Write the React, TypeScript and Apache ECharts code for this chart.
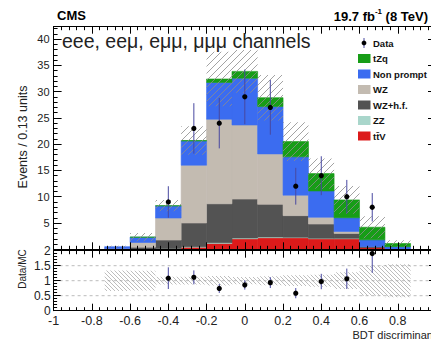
import React, { useEffect, useRef } from 'react';
import * as echarts from 'echarts';

// Histogram binning of the BDT discriminant (15 bins of 2/15 units)
const binEdges = [-1, -0.867, -0.733, -0.6, -0.467, -0.333, -0.2, -0.067, 0.067, 0.2, 0.333, 0.467, 0.6, 0.733, 0.867, 1];

// Expected yields per bin, stacked from the bottom up
const ttV = [0, 0, 0, 0, 0.1, 0.4, 1.1, 2.0, 2.2, 2.2, 2.0, 2.0, 0.3, 0, 0];
const zz = [0, 0, 0, 0, 0.05, 0.1, 0.15, 0.15, 0.15, 0.1, 0.1, 0.1, 0, 0, 0];
const wzHf = [0, 0, 0.05, 0.4, 1.6, 4.5, 7.4, 7.4, 6.2, 4.1, 2.7, 0.9, 0.2, 0, 0];
const wz = [0, 0, 0.1, 0.9, 4.2, 11.0, 16.1, 14.1, 9.6, 3.9, 1.3, 0.4, 0, 0, 0];
const nonPrompt = [0, 0, 0.35, 1.0, 2.3, 4.6, 7.0, 8.9, 9.0, 7.3, 5.0, 2.6, 1.3, 0.5, 0];
const tZq = [0, 0, 0, 0.02, 0.05, 0.1, 0.65, 1.3, 1.7, 2.9, 3.3, 3.4, 2.4, 0.6, 0];

// Relative total uncertainty on the prediction per bin
const relUnc = [0, 0, 0.34, 0.33, 0.13, 0.13, 0.16, 0.12, 0.15, 0.18, 0.2, 0.28, 0.5, 0.55, 0];

// Observed events and their statistical errors
const dataCounts = [0, 0, 0, 0, 9, 23, 24, 29, 27, 12, 14, 10, 8, 0, 0];
const dataErr = [0, 0, 0, 0, 3.0, 4.8, 4.8, 5.2, 5.2, 3.5, 3.7, 3.2, 2.7, 0, 0];

// Axis ranges and ratio reference lines
const xRange = [-1, 1];
const mainYRange = [0, 42.35];
const ratioYRange = [0, 2];
const ratioGuides = [0.5, 1, 1.5];

const FONT = "'Liberation Sans', Arial, Helvetica, sans-serif";
const ERR_COLOR = '#4848a0';

const components = [
  { name: 'tt\u0304V', values: ttV, color: '#dc1a1a' },
  { name: 'ZZ', values: zz, color: '#a9d6cb' },
  { name: 'WZ+h.f.', values: wzHf, color: '#535353' },
  { name: 'WZ', values: wz, color: '#c3bbb1' },
  { name: 'Non prompt', values: nonPrompt, color: '#3b6cf0' },
  { name: 'tZq', values: tZq, color: '#179d17' },
];

function hatch(size: number, forward: boolean, stroke: string, width: number) {
  const s = size;
  const d = forward
    ? `M-1,1 L1,-1 M0,${s} L${s},0 M${s - 1},${s + 1} L${s + 1},${s - 1}`
    : `M-1,${s - 1} L1,${s + 1} M0,0 L${s},${s} M${s - 1},-1 L${s + 1},1`;
  const svg =
    `<svg xmlns='http://www.w3.org/2000/svg' width='${s}' height='${s}'>` +
    `<path d='${d}' stroke='${stroke}' stroke-width='${width}'/></svg>`;
  return {
    image: 'data:image/svg+xml;charset=utf-8,' + encodeURIComponent(svg),
    repeat: 'repeat',
    imageWidth: s,
    imageHeight: s,
  };
}

const mainHatch = hatch(7, true, '#8c8c8c', 0.8);
const ratioHatch = hatch(4, false, '#a0a0a0', 0.7);

function rectRenderer(fill: any, stroke?: string) {
  return (params: any, api: any) => {
    const lo = api.value(2);
    const hi = api.value(3);
    if (!(hi > lo)) return null;
    const p0 = api.coord([api.value(0), hi]);
    const p1 = api.coord([api.value(1), lo]);
    return {
      type: 'rect',
      shape: { x: p0[0], y: p0[1], width: p1[0] - p0[0], height: p1[1] - p0[1] },
      style: stroke ? { fill, stroke, lineWidth: 0.6 } : { fill },
    };
  };
}

function pointRenderer(params: any, api: any) {
  const x = api.value(0);
  const y = api.value(1);
  const e = api.value(2);
  const c = api.coord([x, y]);
  const t = api.coord([x, y + e]);
  const b = api.coord([x, Math.max(y - e, 0)]);
  return {
    type: 'group',
    children: [
      { type: 'line', shape: { x1: t[0], y1: t[1], x2: b[0], y2: b[1] }, style: { stroke: ERR_COLOR, lineWidth: 1 } },
      { type: 'circle', shape: { cx: c[0], cy: c[1], r: 2.6 }, style: { fill: '#000' } },
    ],
  };
}

function buildOption() {
  const nBins = binEdges.length - 1;
  const totals: number[] = [];
  for (let i = 0; i < nBins; i++) {
    totals.push(components.reduce((s, c) => s + c.values[i], 0));
  }

  const stackSeries: any[] = [];
  const running = new Array(nBins).fill(0);
  components.forEach((comp) => {
    const rows: number[][] = [];
    for (let i = 0; i < nBins; i++) {
      const lo = running[i];
      const hi = lo + comp.values[i];
      running[i] = hi;
      rows.push([binEdges[i], binEdges[i + 1], lo, hi]);
    }
    stackSeries.push({
      type: 'custom',
      name: comp.name,
      xAxisIndex: 0,
      yAxisIndex: 0,
      clip: true,
      z: 2,
      encode: { x: [0, 1], y: [2, 3] },
      renderItem: rectRenderer(comp.color, comp.color),
      data: rows,
    });
  });

  const mainBand: number[][] = [];
  const ratioBand: number[][] = [];
  const mainPoints: number[][] = [];
  const ratioPoints: number[][] = [];
  for (let i = 0; i < nBins; i++) {
    const tot = totals[i];
    if (tot > 0 && relUnc[i] > 0) {
      mainBand.push([binEdges[i], binEdges[i + 1], tot * (1 - relUnc[i]), tot * (1 + relUnc[i])]);
      ratioBand.push([binEdges[i], binEdges[i + 1], 1 - relUnc[i], 1 + relUnc[i]]);
    }
    if (dataCounts[i] > 0) {
      const xc = (binEdges[i] + binEdges[i + 1]) / 2;
      mainPoints.push([xc, dataCounts[i], dataErr[i]]);
      if (tot > 0) ratioPoints.push([xc, dataCounts[i] / tot, dataErr[i] / tot]);
    }
  }

  const tickLine = { color: '#000', width: 1 };
  const xCommon = {
    type: 'value',
    min: xRange[0],
    max: xRange[1],
    interval: 0.2,
    z: 10,
    axisLine: { show: true, onZero: false, lineStyle: tickLine },
    axisTick: { show: true, inside: true, length: 7, lineStyle: tickLine },
    minorTick: { show: true, splitNumber: 5, length: 3.5, lineStyle: tickLine },
    splitLine: { show: false },
  };
  const yMain = {
    type: 'value',
    gridIndex: 0,
    min: mainYRange[0],
    max: mainYRange[1],
    interval: 5,
    z: 10,
    axisLine: { show: true, onZero: false, lineStyle: tickLine },
    axisTick: { show: true, inside: true, length: 8, lineStyle: tickLine },
    minorTick: { show: true, splitNumber: 5, length: 4, lineStyle: tickLine },
    splitLine: { show: false },
  };
  const yRatio = {
    type: 'value',
    gridIndex: 1,
    min: ratioYRange[0],
    max: ratioYRange[1],
    interval: 0.5,
    z: 10,
    axisLine: { show: true, onZero: false, lineStyle: tickLine },
    axisTick: { show: true, inside: true, length: 7, lineStyle: tickLine },
    minorTick: { show: true, splitNumber: 5, length: 3.5, lineStyle: tickLine },
    splitLine: { show: false },
  };

  const legendRows = [...components].reverse();
  const legendX = 358;
  const legendY0 = 43;
  const legendStep = 15.5;
  const legendGraphics: any[] = [
    { type: 'line', shape: { x1: legendX + 6, y1: legendY0 - 5, x2: legendX + 6, y2: legendY0 + 5 }, style: { stroke: ERR_COLOR, lineWidth: 1 } },
    { type: 'circle', shape: { cx: legendX + 6, cy: legendY0, r: 2.4 }, style: { fill: '#000' } },
    { type: 'text', x: legendX + 15, y: legendY0, style: { text: 'Data', font: `bold 9.5px ${FONT}`, fill: '#111', verticalAlign: 'middle' } },
  ];
  legendRows.forEach((c, k) => {
    const yy = legendY0 + legendStep * (k + 1);
    legendGraphics.push({ type: 'rect', shape: { x: legendX, y: yy - 4.5, width: 12.5, height: 9 }, style: { fill: c.color } });
    legendGraphics.push({ type: 'text', x: legendX + 15, y: yy, style: { text: c.name, font: `bold 9.5px ${FONT}`, fill: '#111', verticalAlign: 'middle' } });
  });

  return {
    animation: false,
    backgroundColor: '#fff',
    textStyle: { fontFamily: FONT },
    grid: [
      { left: 53.6, top: 26.7, width: 382.4, height: 222.6 },
      { left: 53.6, top: 250.7, width: 382.4, height: 60 },
    ],
    xAxis: [
      { ...xCommon, gridIndex: 0, position: 'bottom', axisLabel: { show: false } },
      { ...xCommon, gridIndex: 0, position: 'top', axisLabel: { show: false } },
      {
        ...xCommon,
        gridIndex: 1,
        position: 'bottom',
        axisLabel: { show: true, margin: 3.5, fontSize: 12.5, color: '#222', fontFamily: FONT },
      },
      { ...xCommon, gridIndex: 1, position: 'top', axisLabel: { show: false } },
    ],
    yAxis: [
      {
        ...yMain,
        position: 'left',
        axisLabel: {
          show: true,
          margin: 4,
          fontSize: 11,
          color: '#222',
          fontFamily: FONT,
          formatter: (v: number) => (v > 0 && Math.abs(v % 5) < 1e-6 ? String(v) : ''),
        },
      },
      { ...yMain, position: 'right', axisLabel: { show: false } },
      {
        ...yRatio,
        position: 'left',
        axisLabel: { show: true, margin: 3, fontSize: 12, color: '#222', fontFamily: FONT },
      },
      { ...yRatio, position: 'right', axisLabel: { show: false } },
    ],
    series: [
      ...stackSeries,
      {
        type: 'custom',
        name: 'uncertainty',
        xAxisIndex: 0,
        yAxisIndex: 0,
        clip: true,
        z: 3,
        encode: { x: [0, 1], y: [2, 3] },
        renderItem: rectRenderer(mainHatch),
        data: mainBand,
      },
      {
        type: 'custom',
        name: 'Data',
        xAxisIndex: 0,
        yAxisIndex: 0,
        clip: true,
        z: 4,
        encode: { x: 0, y: 1 },
        renderItem: pointRenderer,
        data: mainPoints,
      },
      {
        type: 'custom',
        name: 'guides',
        xAxisIndex: 2,
        yAxisIndex: 2,
        z: 1,
        encode: { x: [0, 1], y: 2 },
        renderItem: (params: any, api: any) => {
          const a = api.coord([api.value(0), api.value(2)]);
          const b = api.coord([api.value(1), api.value(2)]);
          return {
            type: 'line',
            shape: { x1: a[0], y1: a[1], x2: b[0], y2: b[1] },
            style: { stroke: '#bcbcbc', lineWidth: 1, lineDash: [3, 3] },
          };
        },
        data: ratioGuides.map((g) => [xRange[0], xRange[1], g]),
      },
      {
        type: 'custom',
        name: 'ratio uncertainty',
        xAxisIndex: 2,
        yAxisIndex: 2,
        clip: true,
        z: 3,
        encode: { x: [0, 1], y: [2, 3] },
        renderItem: rectRenderer(ratioHatch),
        data: ratioBand,
      },
      {
        type: 'custom',
        name: 'Data/MC',
        xAxisIndex: 2,
        yAxisIndex: 2,
        clip: true,
        z: 4,
        encode: { x: 0, y: 1 },
        renderItem: pointRenderer,
        data: ratioPoints,
      },
    ],
    graphic: [
      { type: 'text', x: 57, y: 15, style: { text: 'CMS', font: `bold 13px ${FONT}`, fill: '#000', verticalAlign: 'middle' } },
      {
        type: 'text',
        x: 428,
        y: 15,
        style: {
          text: '{a|19.7 fb}{s|-1}{a| (8 TeV)}',
          align: 'right',
          verticalAlign: 'middle',
          fill: '#000',
          rich: {
            a: { font: `bold 13px ${FONT}`, lineHeight: 15, verticalAlign: 'bottom' },
            s: { font: `bold 8px ${FONT}`, lineHeight: 9, verticalAlign: 'top' },
          },
        },
      },
      {
        type: 'text',
        x: 62,
        y: 41,
        z: 20,
        style: { text: 'eee, ee\u03bc, e\u03bc\u03bc, \u03bc\u03bc\u03bc channels', font: `19.5px ${FONT}`, fill: '#222', verticalAlign: 'middle' },
      },
      {
        type: 'text',
        x: 23,
        y: 137,
        rotation: Math.PI / 2,
        style: { text: 'Events / 0.13 units', font: `12.5px ${FONT}`, fill: '#222', align: 'center', verticalAlign: 'middle' },
      },
      {
        type: 'text',
        x: 22.5,
        y: 269,
        rotation: Math.PI / 2,
        style: { text: 'Data/MC', font: `10px ${FONT}`, fill: '#222', align: 'center', verticalAlign: 'middle' },
      },
      {
        type: 'text',
        x: 436,
        y: 335,
        style: { text: 'BDT discriminant', font: `11px ${FONT}`, fill: '#222', align: 'right', verticalAlign: 'middle' },
      },
      ...legendGraphics,
    ],
  };
}

export default function App() {
  const ref = useRef<HTMLDivElement>(null);
  useEffect(() => {
    if (!ref.current) return;
    const chart = echarts.init(ref.current, undefined, { renderer: 'svg' });
    chart.setOption(buildOption() as any);
    return () => chart.dispose();
  }, []);
  return (
    <div style={{ position: 'fixed', left: 0, top: 0, width: 431, height: 342, overflow: 'hidden', background: '#fff' }}>
      <div ref={ref} style={{ width: 446, height: 342 }} />
    </div>
  );
}
